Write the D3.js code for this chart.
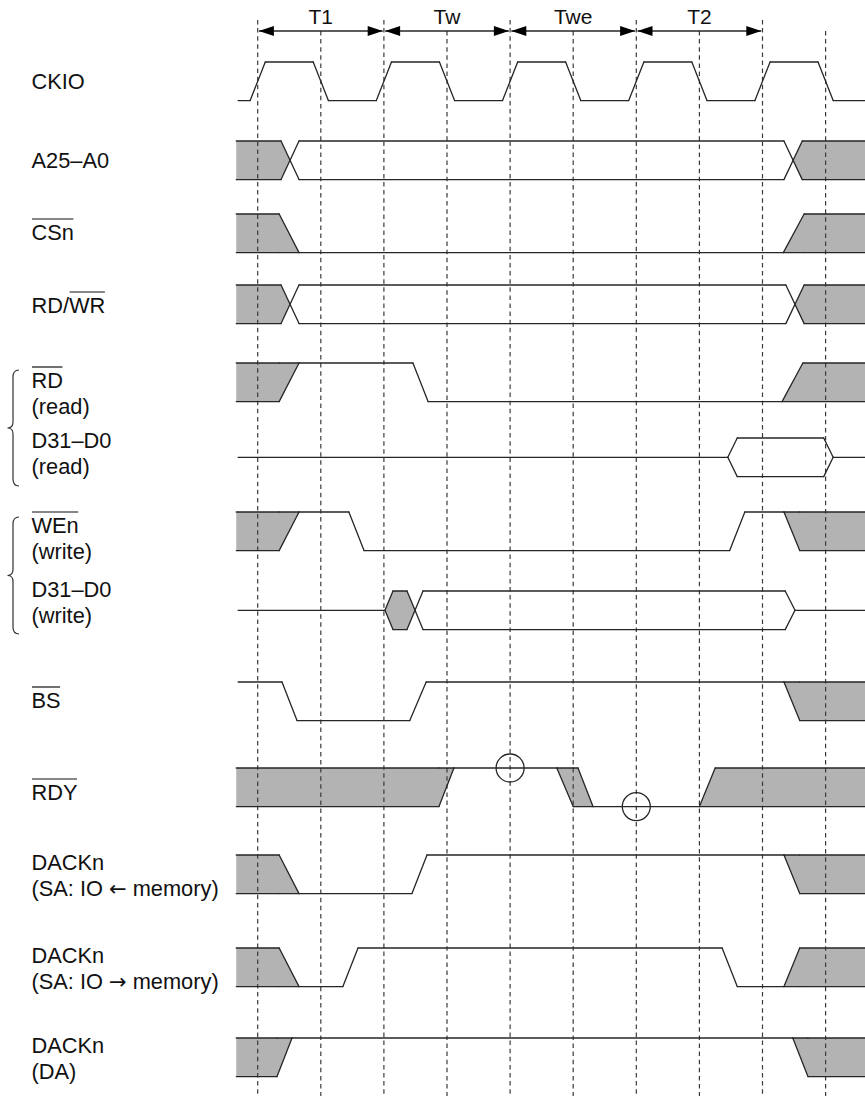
<!DOCTYPE html>
<html>
<head>
<meta charset="utf-8">
<script src="https://cdn.jsdelivr.net/npm/d3@7"></script>
<style>
  body { margin: 0; background: #fff; }
  text { font-family: "Liberation Sans", Arial, sans-serif; fill: #111; }
</style>
</head>
<body>
<svg width="865" height="1096"></svg>
<script>
// time is counted in half clock periods, the dashed guides sit on 0..9
const guideTicks = [0, 1, 2, 3, 4, 5, 6, 7, 8, 9];
const phaseNames = ["T1", "Tw", "Twe", "T2"];
const phaseBounds = [[0, 2], [2, 4], [4, 6], [6, 8]];

// signal names, "over" = characters carrying the overbar
const labelLines = [
    [{t: "CKIO"}],
    [{t: "A25–A0"}],
    [{t: "CSn", over: [0, 3]}],
    [{t: "RD/WR", over: [3, 5]}],
    [{t: "RD", over: [0, 2]}, {t: "(read)"}],
    [{t: "D31–D0"}, {t: "(read)"}],
    [{t: "WEn", over: [0, 3]}, {t: "(write)"}],
    [{t: "D31–D0"}, {t: "(write)"}],
    [{t: "BS", over: [0, 2]}],
    [{t: "RDY", over: [0, 3]}],
    [{t: "DACKn"}, {t: "(SA: IO ← memory)"}],
    [{t: "DACKn"}, {t: "(SA: IO → memory)"}],
    [{t: "DACKn"}, {t: "(DA)"}]
];

// waveforms: initial state, then [transition start, transition end, new state]
// H high, L low, Z floating, V valid bus, X undefined (shaded)
const ckioWave = {from: -0.31, init: "L", edges: [
    [-0.12, 0.12, "H"], [0.88, 1.12, "L"], [1.88, 2.12, "H"], [2.88, 3.12, "L"],
    [3.88, 4.12, "H"], [4.88, 5.12, "L"], [5.88, 6.12, "H"], [6.88, 7.12, "L"],
    [7.88, 8.12, "H"], [8.88, 9.12, "L"]]};
const addrWave = {from: -0.34, init: "X", edges: [[0.37, 0.655, "V"], [8.34, 8.63, "X"]]};
const csWave = {from: -0.34, init: "X", edges: [[0.34, 0.655, "L"], [8.33, 8.66, "X"]]};
const rdwrWave = {from: -0.34, init: "X", edges: [[0.37, 0.655, "V"], [8.37, 8.66, "X"]]};
const rdWave = {from: -0.34, init: "X", edges: [[0.34, 0.655, "H"], [2.46, 2.70, "L"], [8.31, 8.64, "X"]]};
const dataReadWave = {from: -0.31, init: "Z", edges: [[7.45, 7.60, "V"], [8.97, 9.12, "Z"]]};
const weWave = {from: -0.34, init: "X", edges: [[0.34, 0.655, "H"], [1.445, 1.685, "L"], [7.48, 7.72, "H"], [8.34, 8.59, "X"]]};
const dataWriteWave = {from: -0.31, init: "Z", edges: [[2.017, 2.144, "X"], [2.366, 2.62, "V"], [8.36, 8.515, "Z"]]};
const bsWave = {from: -0.31, init: "H", edges: [[0.385, 0.623, "L"], [2.41, 2.67, "H"], [8.34, 8.59, "X"]]};
const rdyWave = {from: -0.34, init: "X", edges: [[2.873, 3.11, "H"], [4.74, 5.0, "X"], [5.076, 5.314, "L"], [7.0, 7.25, "X"]]};
const dackReadWave = {from: -0.34, init: "X", edges: [[0.34, 0.655, "L"], [2.445, 2.683, "H"], [8.34, 8.59, "X"]]};
const dackWriteWave = {from: -0.34, init: "X", edges: [[0.34, 0.655, "L"], [1.35, 1.59, "H"], [7.36, 7.6, "L"], [8.34, 8.59, "X"]]};
const dackDaWave = {from: -0.34, init: "X", edges: [[0.306, 0.544, "H"], [8.48, 8.72, "X"]]};

const waves = [ckioWave, addrWave, csWave, rdwrWave, rdWave, dataReadWave, weWave,
    dataWriteWave, bsWave, rdyWave, dackReadWave, dackWriteWave, dackDaWave];

// sampling points on RDY: [time, level]
const rdyMarks = [[4, "H"], [6, "L"]];

// layout
const rowTop = [62, 141, 214, 285, 363, 438, 512, 591, 682, 768, 855, 948, 1038];
const rowH = 38.6;
const labelBase = [89, 168, 240, 313, 388, 448, 533, 597, 708, 800, 870, 963, 1053];
const lineGap = 26;
const braceSpans = [[370, 486], [517, 634]];
const tEnd = 9.8;
const labelSize = 21.8;

const svg = d3.select("svg"),
    width = +svg.attr("width"),
    height = +svg.attr("height");

const x = d3.scaleLinear().domain([0, 9]).range([257.7, 825.6]);

const ink = "#262626", shade = "#b3b3b3";
const levels = {H: ["T"], L: ["B"], Z: ["M"], V: ["T", "B"], X: ["T", "B"]};

const fillG = svg.append("g").attr("class", "fills");
const guideG = svg.append("g").attr("class", "guides");
const lineG = svg.append("g").attr("class", "waves");
const textG = svg.append("g").attr("class", "labels");

function segmentsOf(w) {
    const segs = [];
    let state = w.init, t = w.from;
    for (const e of w.edges) {
        segs.push({kind: "s", a: t, b: e[0], s: state});
        segs.push({kind: "t", a: e[0], b: e[1], s1: state, s2: e[2]});
        state = e[2];
        t = e[1];
    }
    segs.push({kind: "s", a: t, b: tEnd, s: state});
    return segs;
}

waves.forEach((w, i) => {
    const Y = {T: rowTop[i], B: rowTop[i] + rowH, M: rowTop[i] + rowH / 2};
    const segs = segmentsOf(w);
    const lines = [];

    segs.forEach((sg, j) => {
        if (sg.kind === "s") {
            for (const l of levels[sg.s]) lines.push([[sg.a, Y[l]], [sg.b, Y[l]]]);
            if (sg.s !== "X") return;
            // shaded region, including the slanted ends of neighbouring transitions
            const prev = segs[j - 1], next = segs[j + 1];
            const top = [], bot = [];
            let leftApex = null, rightApex = null;
            if (!prev) {
                top.push([sg.a, Y.T]); bot.push([sg.a, Y.B]);
            } else if (prev.s1 === "H") {
                top.push([prev.a, Y.T]); bot.push([prev.b, Y.B]);
            } else if (prev.s1 === "L") {
                top.push([prev.b, Y.T]); bot.push([prev.a, Y.B]);
            } else {
                leftApex = [prev.s1 === "Z" ? prev.a : (prev.a + prev.b) / 2, Y.M];
                top.push([prev.b, Y.T]); bot.push([prev.b, Y.B]);
            }
            if (!next) {
                top.push([sg.b, Y.T]); bot.push([sg.b, Y.B]);
            } else if (next.s2 === "L") {
                top.push([next.a, Y.T]); bot.push([next.b, Y.B]);
            } else if (next.s2 === "H") {
                top.push([next.b, Y.T]); bot.push([next.a, Y.B]);
            } else {
                rightApex = [next.s2 === "Z" ? next.b : (next.a + next.b) / 2, Y.M];
                top.push([next.a, Y.T]); bot.push([next.a, Y.B]);
            }
            const poly = [];
            if (leftApex) poly.push(leftApex);
            poly.push(...top);
            if (rightApex) poly.push(rightApex);
            poly.push(...bot.reverse());
            fillG.append("polygon")
                .attr("points", poly.map(p => [x(p[0]), p[1]].join(",")).join(" "))
                .attr("fill", shade);
        } else {
            const l1 = levels[sg.s1], l2 = levels[sg.s2];
            if (l1.length === 1 && l2.length === 1) {
                lines.push([[sg.a, Y[l1[0]]], [sg.b, Y[l2[0]]]]);
            } else if (l1.length === 1) {
                for (const l of l2) lines.push([[sg.a, Y[l1[0]]], [sg.b, Y[l]]]);
            } else if (l2.length === 1) {
                for (const l of l1) lines.push([[sg.a, Y[l]], [sg.b, Y[l2[0]]]]);
            } else {
                lines.push([[sg.a, Y.T], [sg.b, Y.B]]);
                lines.push([[sg.a, Y.B], [sg.b, Y.T]]);
            }
        }
    });

    lineG.append("g")
        .selectAll("line")
        .data(lines)
        .enter().append("line")
        .attr("x1", d => x(d[0][0]))
        .attr("y1", d => d[0][1])
        .attr("x2", d => x(d[1][0]))
        .attr("y2", d => d[1][1])
        .attr("stroke", ink)
        .attr("stroke-width", 1.3)
        .attr("stroke-linecap", "round");
});

// dashed guides: clock edges at even ticks reach higher up
guideG.selectAll("line")
    .data(guideTicks)
    .enter().append("line")
    .attr("x1", d => x(d))
    .attr("x2", d => x(d))
    .attr("y1", d => (d % 2 === 0 && d < 9) ? 20 : 31)
    .attr("y2", height)
    .attr("stroke", "#3a3a3a")
    .attr("stroke-width", 1.2)
    .attr("stroke-dasharray", "4.5,3.6");

// sampling circles on RDY
const rdyRow = 9;
lineG.selectAll("circle")
    .data(rdyMarks)
    .enter().append("circle")
    .attr("cx", d => x(d[0]))
    .attr("cy", d => d[1] === "H" ? rowTop[rdyRow] : rowTop[rdyRow] + rowH)
    .attr("r", 14)
    .attr("fill", "none")
    .attr("stroke", ink)
    .attr("stroke-width", 1.3);

// phase header with double arrows
const headG = svg.append("g").attr("class", "phases");
const arrowY = 31, headLen = 15, headW = 5;
phaseBounds.forEach((b, i) => {
    const xa = x(b[0]) + 1.2, xb = x(b[1]) - 1.2;
    headG.append("line")
        .attr("x1", xa).attr("x2", xb)
        .attr("y1", arrowY).attr("y2", arrowY)
        .attr("stroke", ink).attr("stroke-width", 1.3);
    headG.append("path")
        .attr("d", `M${xa},${arrowY}L${xa + headLen},${arrowY - headW}L${xa + headLen},${arrowY + headW}Z`)
        .attr("fill", "#000");
    headG.append("path")
        .attr("d", `M${xb},${arrowY}L${xb - headLen},${arrowY - headW}L${xb - headLen},${arrowY + headW}Z`)
        .attr("fill", "#000");
    headG.append("text")
        .attr("x", x((b[0] + b[1]) / 2))
        .attr("y", 24)
        .attr("text-anchor", "middle")
        .attr("font-size", 21)
        .text(phaseNames[i]);
});

// signal labels; arrows come from a font with long arrow glyphs
labelLines.forEach((ls, i) => {
    ls.forEach((ln, k) => {
        const base = labelBase[i] + k * lineGap;
        const t = textG.append("text")
            .attr("x", 31.5)
            .attr("y", base)
            .attr("font-size", labelSize);
        ln.t.split(/([←→])/).filter(s => s.length).forEach(part => {
            const sp = t.append("tspan").text(part);
            if (part === "←" || part === "→") {
                sp.attr("font-family", "DejaVu Sans").attr("font-size", 21);
            }
        });
        if (ln.over) {
            const node = t.node();
            const x0 = 31.5 + (ln.over[0] > 0 ? node.getSubStringLength(0, ln.over[0]) : 0);
            const len = node.getSubStringLength(ln.over[0], ln.over[1] - ln.over[0]);
            textG.append("line")
                .attr("x1", x0 + 0.5).attr("x2", x0 + len - 0.5)
                .attr("y1", base - 21).attr("y2", base - 21)
                .attr("stroke", "#111").attr("stroke-width", 1.2);
        }
    });
});

// curly braces grouping read / write signals
svg.append("g")
    .selectAll("path")
    .data(braceSpans)
    .enter().append("path")
    .attr("d", d => {
        const y0 = d[0], y1 = d[1], ym = (y0 + y1) / 2;
        return `M19,${y0} Q13,${y0} 13,${y0 + 7} L13,${ym - 6} Q13,${ym} 7.5,${ym} ` +
            `Q13,${ym} 13,${ym + 6} L13,${y1 - 7} Q13,${y1} 19,${y1}`;
    })
    .attr("fill", "none")
    .attr("stroke", "#333")
    .attr("stroke-width", 1.2);
</script>
</body>
</html>
